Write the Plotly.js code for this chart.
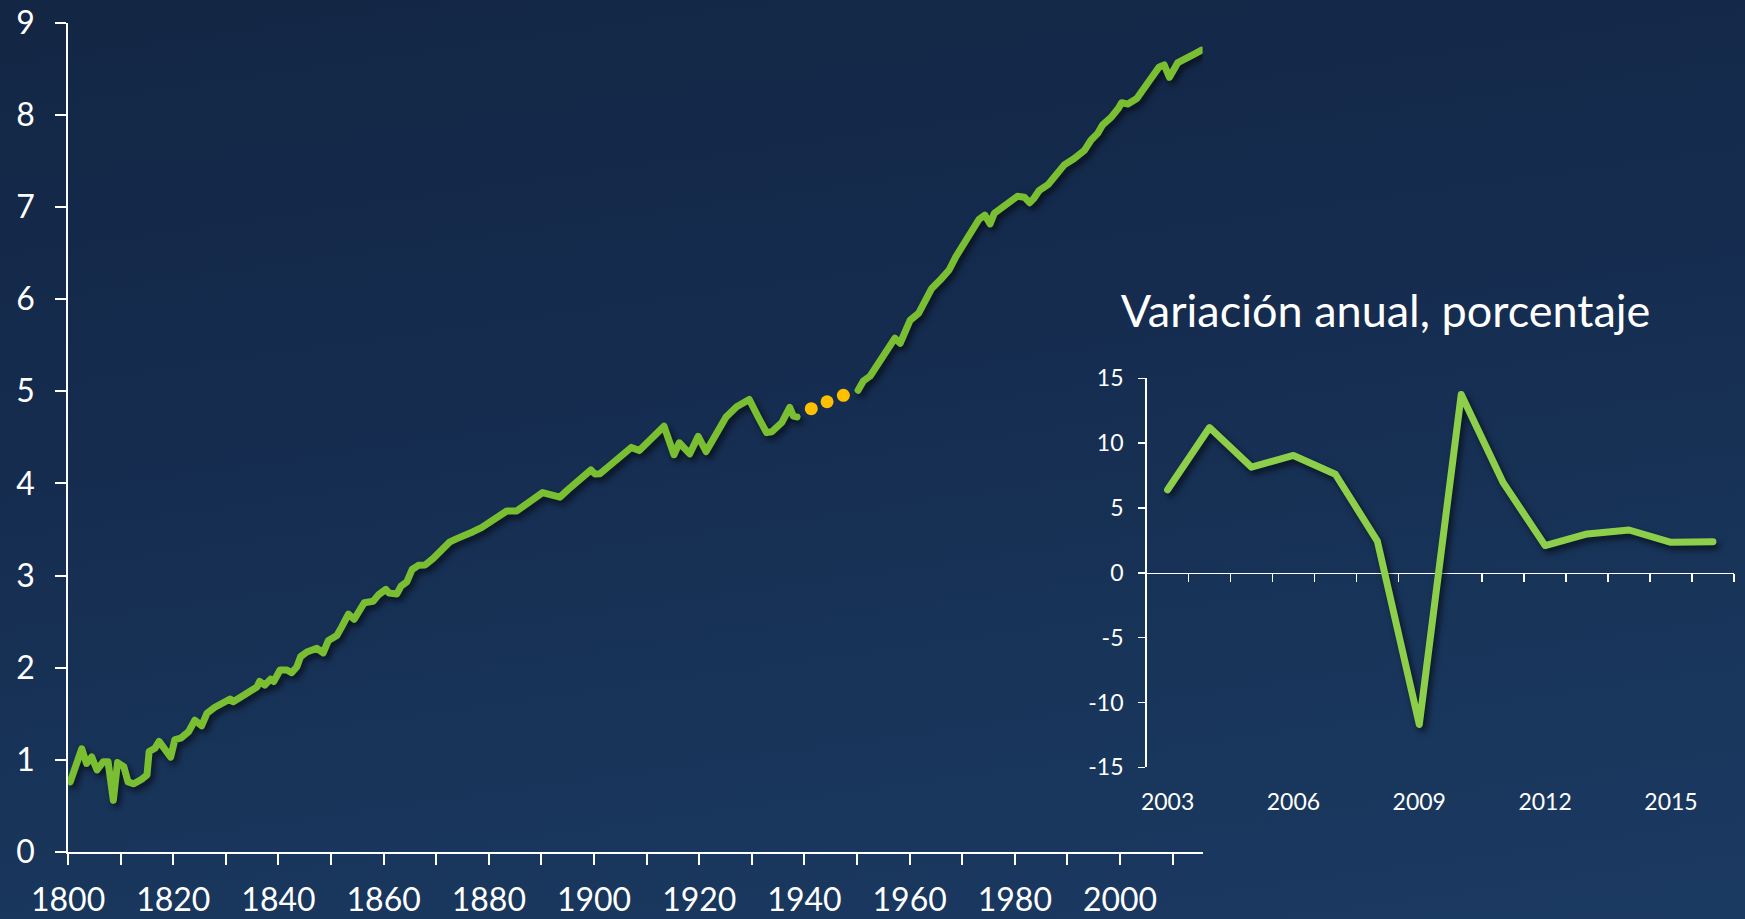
<!DOCTYPE html>
<html>
<head>
<meta charset="utf-8">
<script src="https://cdn.plot.ly/plotly-3.0.1.min.js"></script>
<style>
  html, body { margin: 0; padding: 0; }
  body {
    width: 1745px; height: 919px; overflow: hidden;
    background: linear-gradient(172deg, #132644 0%, #152c4f 40%, #183459 70%, #1b3a62 100%);
  }
  #chart { width: 1745px; height: 919px; }
  .scatterlayer .js-line {
    stroke-linecap: round; stroke-linejoin: round;
    filter: drop-shadow(3px 4px 3px rgba(0, 0, 0, 0.6));
  }
</style>
</head>
<body>
<div id="chart"></div>
<script>
// ---- Main series: long-run index (1800-2015) ----
const preYears = [1800.4,1802.6,1803.5,1804.5,1805.5,1806.7,1807.6,1808.6,1809.4,1810.6,1811.4,1812.5,1814.0,1815.0,1815.4,1816.5,1817.3,1818.4,1819.5,1820.3,1821.4,1822.9,1824.1,1825.4,1826.4,1827.9,1829.5,1830.8,1831.4,1833.0,1834.6,1835.9,1836.4,1837.4,1838.5,1839.1,1840.3,1841.6,1842.5,1843.5,1844.2,1845.4,1847.3,1848.5,1849.5,1851.1,1852.0,1853.3,1854.4,1855.2,1856.3,1858.0,1859.0,1860.4,1861.0,1862.5,1863.3,1864.4,1865.4,1866.6,1867.9,1869.4,1871.0,1872.6,1873.9,1875.8,1877.0,1878.6,1880.5,1881.8,1883.4,1885.3,1886.9,1888.4,1890.2,1891.9,1893.5,1895.1,1897.0,1898.3,1899.4,1900.2,1901.1,1902.4,1904.0,1905.6,1907.1,1908.6,1910.3,1911.9,1913.3,1915.2,1916.2,1918.2,1919.8,1921.3,1922.8,1925.1,1927.1,1929.5,1931.2,1932.8,1933.8,1935.7,1937.2,1937.9,1938.6];
const preValues = [0.76,1.12,0.96,1.03,0.89,0.98,0.98,0.56,0.97,0.925,0.76,0.74,0.79,0.835,1.09,1.125,1.20,1.11,1.03,1.22,1.235,1.305,1.43,1.37,1.505,1.57,1.63,1.66,1.63,1.69,1.76,1.79,1.85,1.81,1.875,1.85,1.975,1.975,1.945,2.01,2.12,2.17,2.21,2.16,2.295,2.35,2.44,2.58,2.525,2.59,2.705,2.72,2.79,2.85,2.81,2.80,2.885,2.93,3.065,3.11,3.115,3.185,3.285,3.365,3.40,3.44,3.475,3.52,3.595,3.655,3.70,3.70,3.755,3.825,3.90,3.875,3.85,3.935,4.035,4.08,4.145,4.10,4.105,4.165,4.235,4.325,4.39,4.355,4.46,4.54,4.62,4.31,4.44,4.32,4.51,4.345,4.505,4.72,4.83,4.91,4.72,4.55,4.56,4.66,4.825,4.73,4.72];

const gapYears = [1941.3, 1944.3, 1947.4];
const gapValues = [4.81, 4.885, 4.955];

const postYears = [1950.2,1951.2,1952.5,1953.7,1955.0,1956.3,1957.2,1958.2,1959.1,1960.1,1961.7,1962.9,1964.2,1965.8,1967.5,1968.8,1970.0,1971.3,1972.6,1973.2,1974.3,1975.3,1976.1,1977.7,1979.0,1980.5,1981.8,1982.8,1983.6,1984.6,1986.3,1988.2,1989.4,1991.3,1993.2,1994.5,1995.8,1996.7,1998.3,1999.7,2000.3,2001.5,2003.2,2004.3,2005.9,2007.4,2008.4,2009.4,2011.0,2012.9,2014.2,2015.5];
const postValues = [5.01,5.11,5.165,5.265,5.39,5.48,5.575,5.52,5.665,5.77,5.845,5.97,6.115,6.205,6.315,6.46,6.575,6.675,6.805,6.865,6.91,6.815,6.93,6.995,7.055,7.115,7.105,7.045,7.09,7.175,7.24,7.355,7.455,7.525,7.61,7.725,7.80,7.89,7.97,8.07,8.13,8.115,8.175,8.265,8.395,8.515,8.54,8.405,8.565,8.61,8.66,8.70];

// ---- Inset: annual variation, percent ----
const insetTitle = "Variación anual, porcentaje";
const insetYears = [2003,2004,2005,2006,2007,2008,2009,2010,2011,2012,2013,2014,2015,2016];
const insetValues = [6.4,11.2,8.15,9.05,7.6,2.45,-11.7,13.75,6.95,2.1,3.0,3.3,2.35,2.4];
const insetXTickLabels = [2003,2006,2009,2012,2015];
const insetYTickVals = [-15,-10,-5,0,5,10,15];
const insetYTickText = ["-15","-10","-5","0","5","10","15"];

const FONT = "Lato, 'Open Sans', 'DejaVu Sans', sans-serif";
const W = 1745, H = 919;
const px = v => v / W;
const py = v => (H - v) / H;

const mainGreen = "#7abf32";
const insetGreen = "#8dcf4a";

const traces = [
  { x: preYears, y: preValues, xaxis: "x", yaxis: "y", mode: "lines",
    line: { color: mainGreen, width: 7 }, hoverinfo: "skip" },
  { x: postYears, y: postValues, xaxis: "x", yaxis: "y", mode: "lines",
    line: { color: mainGreen, width: 7 }, hoverinfo: "skip" },
  { x: gapYears, y: gapValues, xaxis: "x", yaxis: "y", mode: "markers",
    marker: { color: "#ffc000", size: 13 }, hoverinfo: "skip" },
  // invisible copy keeps the label axis alive
  { x: insetYears, y: insetValues, xaxis: "x2", yaxis: "y2", mode: "lines",
    line: { color: "rgba(0,0,0,0)", width: 1 }, hoverinfo: "skip" },
  { x: insetYears, y: insetValues, xaxis: "x3", yaxis: "y2", mode: "lines",
    line: { color: insetGreen, width: 7 }, hoverinfo: "skip" }
];

const y2dom = [py(767.3), py(378.3)];

const layout = {
  width: W, height: H,
  margin: { l: 0, r: 0, t: 0, b: 0 },
  paper_bgcolor: "rgba(0,0,0,0)",
  plot_bgcolor: "rgba(0,0,0,0)",
  showlegend: false,
  font: { family: FONT, color: "#ffffff" },
  title: {
    text: insetTitle,
    x: px(1385.5), y: py(311), xref: "paper", yref: "paper",
    xanchor: "center", yanchor: "middle",
    font: { family: FONT, size: 45, color: "#ffffff" }
  },
  xaxis: {
    domain: [px(68.1), px(1202.6)], anchor: "y",
    range: [1800, 2015.7], tick0: 1800, dtick: 20,
    showgrid: false, zeroline: false,
    showline: true, linecolor: "#ffffff", linewidth: 2,
    ticks: "outside", ticklen: 11, tickwidth: 2, tickcolor: "#ffffff",
    minor: { dtick: 10, ticks: "outside", ticklen: 11, tickwidth: 2, tickcolor: "#ffffff", showgrid: false },
    tickfont: { family: FONT, size: 32, color: "#ffffff" },
    ticklabelstandoff: 8
  },
  yaxis: {
    domain: [py(852), py(22.5)], anchor: "x",
    range: [0, 9], dtick: 1,
    showgrid: false, zeroline: false,
    showline: true, linecolor: "#ffffff", linewidth: 2,
    ticks: "outside", ticklen: 11, tickwidth: 2, tickcolor: "#ffffff",
    tickfont: { family: FONT, size: 32, color: "#ffffff" },
    ticklabelstandoff: 14
  },
  xaxis2: {
    domain: [px(1146.6), px(1733.9)], anchor: "y2",
    range: [2002.5, 2016.5], tickmode: "array", tickvals: insetXTickLabels,
    showgrid: false, zeroline: false, showline: false, ticks: "",
    tickfont: { family: FONT, size: 23, color: "#ffffff" },
    ticklabelstandoff: 19
  },
  xaxis3: {
    overlaying: "x2", anchor: "free",
    position: (y2dom[0] + y2dom[1]) / 2,
    range: [2002.5, 2016.5], tick0: 2002.5, dtick: 1,
    showgrid: false, zeroline: false,
    showline: true, linecolor: "#ffffff", linewidth: 1.5,
    ticks: "outside", ticklen: 8, tickwidth: 1.5, tickcolor: "#ffffff",
    showticklabels: false, layer: "below traces"
  },
  yaxis2: {
    domain: y2dom, anchor: "x2",
    range: [-15, 15], tickmode: "array",
    tickvals: insetYTickVals, ticktext: insetYTickText,
    showgrid: false, zeroline: false,
    showline: true, linecolor: "#ffffff", linewidth: 1.5,
    ticks: "outside", ticklen: 7, tickwidth: 1.5, tickcolor: "#ffffff",
    tickfont: { family: FONT, size: 23, color: "#ffffff" },
    ticklabelstandoff: 10
  }
};

Plotly.newPlot("chart", traces, layout, { staticPlot: true, displayModeBar: false });
</script>
</body>
</html>
